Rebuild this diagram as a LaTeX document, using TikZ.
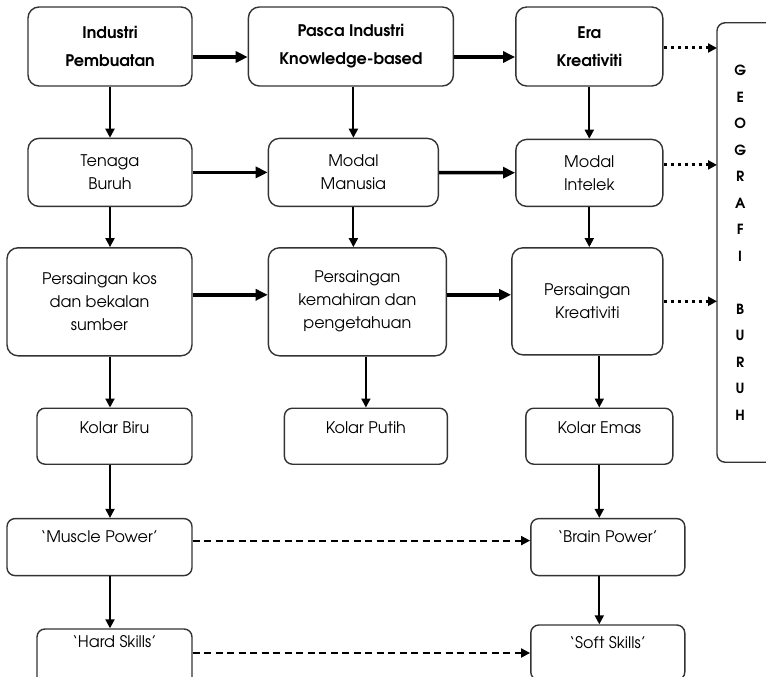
\documentclass[tikz,border=0pt]{standalone}
\usepackage{fontspec}
\setmainfont{texgyreadventor}[Extension=.otf, UprightFont=*-regular, BoldFont=*-bold]
\usetikzlibrary{positioning,arrows.meta}

\tikzset{
	box/.style={draw=black!80, line width=1.4pt, rounded corners=11pt, align=center, inner sep=0pt, font=\fontsize{16}{23}\selectfont},
	topbox/.style={box, font=\bfseries\fontsize{16}{28}\selectfont},
	lowbox/.style={box, rounded corners=8pt, text height=25pt, text depth=31pt},
	arr/.style={-{Triangle[length=9pt,width=9pt]}, line width=2pt},
	fatarr/.style={-{Triangle[length=12pt,width=11pt]}, line width=3.5pt},
	dotarr/.style={-{Triangle[length=9pt,width=9pt]}, line width=3pt, dash pattern=on 3.5pt off 3.5pt},
	dasharr/.style={-{Triangle[length=9pt,width=9pt]}, line width=2pt, dash pattern=on 7pt off 4.5pt},
}

\begin{document}
\begin{tikzpicture}
			\useasboundingbox (0,0) rectangle (766pt,-677pt);
			
			% Define nodes
			\node[topbox, minimum width=164pt, minimum height=79pt] at (110pt,-46.5pt)	(ind) {Industri\\Pembuatan};
			\node[topbox, right=55pt of ind, minimum width=205pt, minimum height=79pt]	(pasca) {Pasca Industri\\Knowledge-based};
			\node[topbox, right=61pt of pasca, minimum width=147pt, minimum height=79pt]	(era) {Era\\Kreativiti};
			
			\node[box, below=51pt of ind, minimum width=164pt, minimum height=68pt]  				(tenaga) {Tenaga\\Buruh};
			\node[box, below=51pt of pasca, xshift=2.5pt, minimum width=170pt, minimum height=68pt]	(manusia) {Modal\\Manusia};
			\node[box, below=52pt of era, minimum width=147pt, minimum height=67pt]  				(intelek) {Modal\\Intelek};
			
			\node[box, below=40pt of tenaga, xshift=-10.5pt, minimum width=185pt, minimum height=108pt]	(kos) {Persaingan kos\\dan bekalan\\sumber};
			\node[box, below=40pt of manusia, xshift=4pt, minimum width=178pt, minimum height=108pt]	(kemahiran) {Persaingan\\kemahiran dan\\pengetahuan};
			\node[box, below=40pt of intelek, xshift=-2pt, minimum width=151pt, minimum height=107pt]	(kreativiti) {Persaingan\\Kreativiti};
			
			\node[lowbox, below=51pt of kos, xshift=15pt, minimum width=155pt]  			(biru) {Kolar Biru};
			\node[lowbox, below=51pt of kemahiran, xshift=8.5pt, minimum width=163pt]	(putih) {Kolar Putih};
			\node[lowbox, below=52pt of kreativiti, xshift=12pt, minimum width=147pt]	(emas) {Kolar Emas};
			
			\node[lowbox, below=53pt of biru, xshift=-15pt, minimum width=185pt, text height=24pt, text depth=33pt]	(muscle) {‘Muscle Power’};
			\node[lowbox, below=53pt of emas, xshift=8.5pt, minimum width=154pt, text height=24pt, text depth=33pt]	(brain) {‘Brain Power’};
			
			\node[lowbox, below=52pt of muscle, xshift=15pt, minimum width=155pt, text height=18pt, text depth=38pt]	(hard) {‘Hard Skills’};
			\node[lowbox, below=48pt of brain, minimum width=154pt, text height=23pt, text depth=32pt]	(soft) {‘Soft Skills’};
			
			\node[anchor=west, align=center, inner sep=0pt, text width=46pt, minimum height=439pt, font=\bfseries\fontsize{14}{26.5}\selectfont] at (717pt,-242.5pt)	(geo) {G\\E\\O\\G\\R\\A\\F\\I\\~\\B\\U\\R\\U\\H};
			\draw[draw=black!80, line width=1.4pt, rounded corners=8pt] (geo.north west) rectangle ([xshift=60pt]geo.south east);
			
			% Connect the nodes
			\draw[fatarr] ([yshift=-10.5pt]ind.east) -- ([yshift=-10.5pt]pasca.west);
			\draw[fatarr] ([yshift=-10.5pt]pasca.east) -- ([yshift=-10.5pt]era.west);
			\draw[fatarr] (tenaga) -- (manusia);
			\draw[fatarr] (manusia) -- (intelek);
			\draw[fatarr] ([yshift=7pt]kos.east) -- ([yshift=7pt]kos.east -| kemahiran.west);
			\draw[fatarr] ([yshift=7pt]kemahiran.east) -- ([yshift=7pt]kemahiran.east -| kreativiti.west);
			
			\draw[arr] (ind) -- (tenaga);
			\draw[arr] (pasca.south -| manusia) -- (manusia);
			\draw[arr] (era) -- (intelek);
			\draw[arr] (tenaga) -- (tenaga |- kos.north);
			\draw[arr] (manusia) -- (manusia |- kemahiran.north);
			\draw[arr] (intelek) -- (intelek |- kreativiti.north);
			\draw[arr] (tenaga |- kos.south) -- (tenaga |- biru.north);
			\draw[arr] (kemahiran.south -| putih) -- (putih);
			\draw[arr] (kreativiti.south -| emas) -- (emas);
			\draw[arr] (tenaga |- biru.south) -- (tenaga |- muscle.north);
			\draw[arr] (emas) -- (emas |- brain.north);
			\draw[arr] (tenaga |- muscle.south) -- (tenaga |- hard.north);
			\draw[arr] (emas |- brain.south) -- (emas |- soft.north);
			
			\draw[dotarr] ([yshift=-1.5pt]era.east) -- ([yshift=-1.5pt]era.east -| geo.west);
			\draw[dotarr] ([yshift=8pt]intelek.east) -- ([yshift=8pt]intelek.east -| geo.west);
			\draw[dotarr] (kreativiti.east) -- (kreativiti.east -| geo.west);
			
			\draw[dasharr] ([yshift=6.5pt]muscle.east) -- ([yshift=6.5pt]muscle.east -| brain.west);
			\draw[dasharr] ([yshift=4pt]hard.east) -- ([yshift=4pt]hard.east -| soft.west);
			
\end{tikzpicture}
\end{document}
